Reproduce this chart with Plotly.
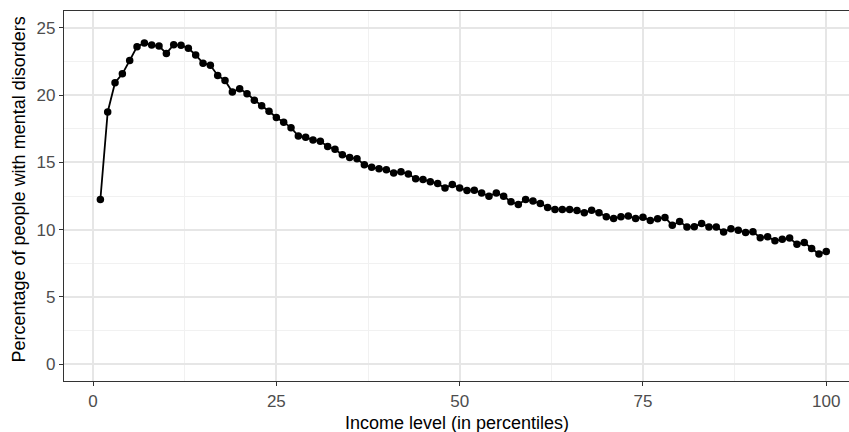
import plotly.graph_objects as go

percentiles = list(range(1, 101))
prevalence = [
    12.24, 18.75, 20.92, 21.58, 22.57, 23.60, 23.87, 23.72, 23.64, 23.10,
    23.75, 23.70, 23.48, 22.98, 22.37, 22.22, 21.46, 21.09, 20.23, 20.48,
    20.10, 19.62, 19.20, 18.80, 18.34, 17.99, 17.58, 16.96, 16.86, 16.67,
    16.57, 16.18, 15.98, 15.56, 15.36, 15.27, 14.82, 14.63, 14.53, 14.45,
    14.21, 14.30, 14.13, 13.79, 13.72, 13.55, 13.42, 13.10, 13.35, 13.10,
    12.90, 12.93, 12.73, 12.49, 12.73, 12.49, 12.07, 11.87, 12.24, 12.12,
    11.95, 11.65, 11.50, 11.50, 11.50, 11.43, 11.26, 11.45, 11.26, 10.96,
    10.82, 10.96, 11.01, 10.82, 10.92, 10.68, 10.80, 10.91, 10.32, 10.60,
    10.20, 10.22, 10.45, 10.20, 10.20, 9.83, 10.07, 9.96, 9.78, 9.85,
    9.40, 9.48, 9.17, 9.29, 9.37, 8.92, 9.05, 8.60, 8.19, 8.38,
]

x_ticks = [0, 25, 50, 75, 100]
y_ticks = [0, 5, 10, 15, 20, 25]
x_title = "Income level (in percentiles)"
y_title = "Percentage of people with mental disorders"

fig = go.Figure()
fig.add_trace(go.Scatter(
    x=percentiles, y=prevalence, mode="lines+markers",
    line=dict(color="black", width=1.8),
    marker=dict(color="black", size=7.5),
    showlegend=False,
))

font_family = "Liberation Sans, Arial, sans-serif"
fig.update_layout(
    width=849, height=432,
    margin=dict(l=64, r=0, t=11, b=51, autoexpand=False),
    plot_bgcolor="white", paper_bgcolor="white",
    font=dict(family=font_family, size=17, color="black"),
)
fig.update_xaxes(
    range=[-3.96, 103.1], automargin=False,
    tickvals=x_ticks, ticktext=[str(v) for v in x_ticks],
    showgrid=True, gridcolor="#e6e6e6", gridwidth=1.6,
    minor=dict(dtick=12.5, tick0=0, showgrid=True, gridcolor="#f1f1f1", gridwidth=1, ticks=""),
    zeroline=False,
    showline=True, linecolor="#333333", linewidth=1.4, mirror=True,
    ticks="outside", ticklen=4, tickcolor="#333333", tickwidth=1.2,
    tickfont=dict(size=17, color="#4d4d4d"),
)
fig.update_yaxes(
    range=[-1.25, 26.25], automargin=False,
    tickvals=y_ticks, ticktext=[str(v) for v in y_ticks],
    showgrid=True, gridcolor="#e6e6e6", gridwidth=1.6,
    minor=dict(dtick=2.5, tick0=0, showgrid=True, gridcolor="#f1f1f1", gridwidth=1, ticks=""),
    zeroline=False,
    showline=True, linecolor="#333333", linewidth=1.4,
    ticks="outside", ticklen=4, tickcolor="#333333", tickwidth=1.2,
    tickfont=dict(size=17, color="#4d4d4d"),
)
fig.add_annotation(
    text=x_title, xref="paper", yref="paper", x=0.5, y=-0.1135,
    xanchor="center", yanchor="middle", showarrow=False,
    font=dict(size=18, color="black"),
)
fig.add_annotation(
    text=y_title, xref="paper", yref="paper", x=-0.0573, y=0.5176,
    xanchor="center", yanchor="middle", showarrow=False, textangle=-90,
    font=dict(size=18, color="black"),
)

fig.write_html(
    "out.html",
    config={"displayModeBar": False},
    post_script="document.body.style.margin='0';document.body.style.overflow='hidden';",
)
